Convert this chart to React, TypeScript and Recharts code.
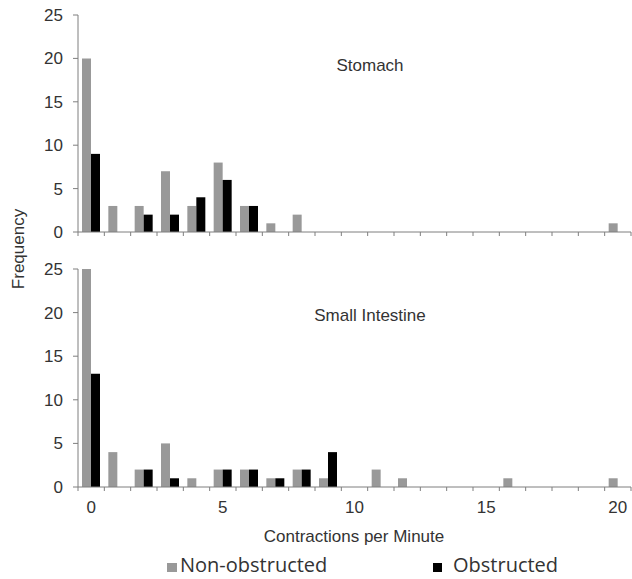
import React from 'react';
import { BarChart, Bar, XAxis, YAxis } from 'recharts';

// ---- data ----
const contractions = [0, 1, 2, 3, 4, 5, 6, 7, 8, 9, 10, 11, 12, 13, 14, 15, 16, 17, 18, 19, 20];
const stomachNonObstructed = [20, 3, 3, 7, 3, 8, 3, 1, 2, 0, 0, 0, 0, 0, 0, 0, 0, 0, 0, 0, 1];
const stomachObstructed = [9, 0, 2, 2, 4, 6, 3, 0, 0, 0, 0, 0, 0, 0, 0, 0, 0, 0, 0, 0, 0];
const intestineNonObstructed = [25, 4, 2, 5, 1, 2, 2, 1, 2, 1, 0, 2, 1, 0, 0, 0, 1, 0, 0, 0, 1];
const intestineObstructed = [13, 0, 2, 1, 0, 2, 2, 1, 2, 4, 0, 0, 0, 0, 0, 0, 0, 0, 0, 0, 0];
const xTickLabels = [0, 5, 10, 15, 20];
const yTicks = [0, 5, 10, 15, 20, 25];
const seriesNames = ['Non-obstructed', 'Obstructed'];
const panelTitles = ['Stomach', 'Small Intestine'];

const GRAY = '#999999';
const BLACK = '#000000';
const AXIS = '#7f7f7f';
const TEXT = '#333333';
const FONT = '"Liberation Sans", Arial, sans-serif';

const stomachData = contractions.map((x, i) => ({ x, non: stomachNonObstructed[i], obs: stomachObstructed[i] }));
const intestineData = contractions.map((x, i) => ({ x, non: intestineNonObstructed[i], obs: intestineObstructed[i] }));

// tick positions: category boundaries (for tick marks) and category centres (for labels)
const boundaries = [...contractions.map((c) => c - 0.5), contractions[contractions.length - 1] + 0.5];
const xTicks = [...boundaries, ...xTickLabels].sort((a, b) => a - b);

const XTick = (props: any) => {
  const { x, y, payload, showLabels } = props;
  const v = payload.value;
  if (!Number.isInteger(v)) {
    return <line x1={x} x2={x} y1={y} y2={y + 4} stroke={AXIS} strokeWidth={1} />;
  }
  if (showLabels && xTickLabels.includes(v)) {
    return (
      <text x={x} y={y + 26} textAnchor="middle" fill={TEXT} fontSize={17} fontFamily={FONT}>
        {v}
      </text>
    );
  }
  return <g />;
};

const Panel = ({ data, showLabels, height, xHeight }: any) => (
  <BarChart
    width={632}
    height={height}
    data={data}
    margin={{ top: 15, right: 1, left: 18, bottom: 0 }}
    barGap={0}
    style={{ fontFamily: FONT }}
  >
    <XAxis
      dataKey="x"
      type="number"
      domain={[-0.5, 20.5]}
      allowDataOverflow
      ticks={xTicks}
      interval={0}
      tickSize={0}
      tickMargin={0}
      tickLine={false}
      height={xHeight}
      stroke={AXIS}
      tick={(p: any) => <XTick {...p} showLabels={showLabels} />}
    />
    <YAxis
      domain={[0, 25]}
      ticks={yTicks}
      allowDataOverflow
      width={60}
      tickSize={5}
      tickMargin={10}
      stroke={AXIS}
      tick={{ fill: TEXT, fontSize: 17, fontFamily: FONT }}
    />
    <Bar dataKey="non" name={seriesNames[0]} fill={GRAY} barSize={9} isAnimationActive={false} />
    <Bar dataKey="obs" name={seriesNames[1]} fill={BLACK} barSize={9} isAnimationActive={false} />
  </BarChart>
);

const textStyle: React.CSSProperties = {
  position: 'absolute',
  fontFamily: FONT,
  fontSize: 17,
  lineHeight: '17px',
  color: TEXT,
  whiteSpace: 'nowrap',
};

export default function App() {
  return (
    <div style={{ position: 'absolute', left: 0, top: 0, width: 632, height: 579, background: '#fff', overflow: 'hidden' }}>
      <div style={{ position: 'absolute', left: 0, top: 0 }}>
        <Panel data={stomachData} showLabels={false} height={242} xHeight={10} />
      </div>
      <div style={{ position: 'absolute', left: 0, top: 254 }}>
        <Panel data={intestineData} showLabels={true} height={263} xHeight={30} />
      </div>

      <div style={{ ...textStyle, left: 370, top: 57, transform: 'translateX(-50%)' }}>{panelTitles[0]}</div>
      <div style={{ ...textStyle, left: 370, top: 307, transform: 'translateX(-50%)' }}>{panelTitles[1]}</div>
      <div style={{ ...textStyle, left: 354, top: 528, transform: 'translateX(-50%)' }}>Contractions per Minute</div>
      <div style={{ ...textStyle, left: 18, top: 249, transform: 'translate(-50%, -50%) rotate(-90deg)' }}>Frequency</div>

      {/* legend */}
      <div style={{ position: 'absolute', left: 167, top: 563, width: 10, height: 9, background: GRAY }} />
      <div style={{ ...textStyle, left: 180, top: 555, fontFamily: '"Open Sans", sans-serif', fontSize: 20, lineHeight: '20px' }}>
        {seriesNames[0]}
      </div>
      <div style={{ position: 'absolute', left: 433, top: 563, width: 9, height: 9, background: BLACK }} />
      <div style={{ ...textStyle, left: 453, top: 555, fontFamily: '"Open Sans", sans-serif', fontSize: 20, lineHeight: '20px' }}>
        {seriesNames[1]}
      </div>
    </div>
  );
}
